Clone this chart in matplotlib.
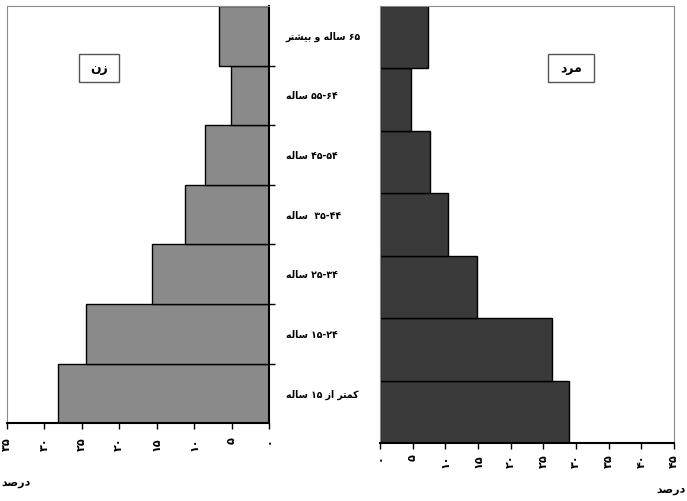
import itertools
import matplotlib
matplotlib.use("Agg")
import matplotlib.pyplot as plt
from matplotlib.patches import Rectangle
from matplotlib.ticker import FixedLocator, FuncFormatter

plt.rcParams["font.family"] = ["DejaVu Sans"]
plt.rcParams["font.weight"] = "bold"

# age groups, bottom to top
ages = ["کمتر از ۱۵ ساله", "۱۵-۲۴ ساله", "۲۵-۳۴ ساله", "۳۵-۴۴  ساله",
        "۴۵-۵۴ ساله", "۵۵-۶۴ ساله", "۶۵ ساله و بیشتر"]
women = [28.2, 24.5, 15.6, 11.2, 8.5, 5.1, 6.7]
men = [29.0, 26.4, 14.9, 10.4, 7.6, 4.7, 7.35]
women_ticks = [0, 5, 10, 15, 20, 25, 30, 35]
men_ticks = [0, 5, 10, 15, 20, 25, 30, 35, 40, 45]

# minimal arabic shaping, matplotlib has no complex text layout
FORMS = {
    "ا": ("\uFE8D", "\uFE8E"),
    "د": ("\uFEA9", "\uFEAA"),
    "ر": ("\uFEAD", "\uFEAE"),
    "ز": ("\uFEAF", "\uFEB0"),
    "و": ("\uFEED", "\uFEEE"),
    "ب": ("\uFE8F", "\uFE90", "\uFE91", "\uFE92"),
    "ت": ("\uFE95", "\uFE96", "\uFE97", "\uFE98"),
    "س": ("\uFEB1", "\uFEB2", "\uFEB3", "\uFEB4"),
    "ش": ("\uFEB5", "\uFEB6", "\uFEB7", "\uFEB8"),
    "ص": ("\uFEB9", "\uFEBA", "\uFEBB", "\uFEBC"),
    "ل": ("\uFEDD", "\uFEDE", "\uFEDF", "\uFEE0"),
    "م": ("\uFEE1", "\uFEE2", "\uFEE3", "\uFEE4"),
    "ن": ("\uFEE5", "\uFEE6", "\uFEE7", "\uFEE8"),
    "ه": ("\uFEE9", "\uFEEA", "\uFEEB", "\uFEEC"),
    "ی": ("\uFBFC", "\uFBFD", "\uFBFE", "\uFBFF"),
    "ک": ("\uFB8E", "\uFB8F", "\uFB90", "\uFB91"),
}
DIGITS = "۰۱۲۳۴۵۶۷۸۹"


def shape(s):
    out = []
    for i, c in enumerate(s):
        if c not in FORMS:
            out.append(c)
            continue
        f = FORMS[c]
        prev = s[i - 1] if i > 0 else ""
        nxt = s[i + 1] if i + 1 < len(s) else ""
        jp = prev in FORMS and len(FORMS[prev]) == 4
        jn = len(f) == 4 and nxt in FORMS
        if jp and jn:
            out.append(f[3])
        elif jp:
            out.append(f[1])
        elif jn:
            out.append(f[2])
        else:
            out.append(f[0])
    return "".join(out)


def fa(s):
    s = shape(s)
    runs = []
    for isnum, grp in itertools.groupby(s, key=lambda c: c in DIGITS or c == "-"):
        g = "".join(grp)
        runs.append(g if isnum else g[::-1])
    return "".join(reversed(runs))


def fa_num(v, pos=None):
    return str(int(round(v))).translate(str.maketrans("0123456789", DIGITS))


W, H = 687, 501
fig = plt.figure(figsize=(W / 100, H / 100), dpi=100)


def box(x0, y0, x1, y1):
    # pixel box -> figure fraction
    return [x0 / W, 1 - y1 / H, (x1 - x0) / W, (y1 - y0) / H]


frame = "#8a8a8a"
pos = list(range(len(ages)))

# men (drawn first so the age labels sit on top)
ax2 = fig.add_axes(box(380, 6, 674, 443))
ax2.barh(pos, men, height=1.0, color="#3a3a3a", edgecolor="black", linewidth=1)
ax2.set_xlim(0, 45)
ax2.set_ylim(-0.5, 6.5)
for s in ["left", "top", "right"]:
    ax2.spines[s].set_color(frame)
    ax2.spines[s].set_linewidth(0.8)
ax2.spines["bottom"].set_color("black")
ax2.spines["bottom"].set_linewidth(1.5)
ax2.set_xticks(men_ticks)
ax2.xaxis.set_major_formatter(FuncFormatter(fa_num))
ax2.tick_params(axis="x", direction="out", length=4, width=1, pad=4,
                labelsize=8, labelrotation=90)
ax2.set_yticks([])
ax2.add_patch(Rectangle((0.572, 0.826), 0.155, 0.064, transform=ax2.transAxes,
                        facecolor="white", edgecolor="#555555", linewidth=1))
ax2.text(0.6495, 0.858, fa("مرد"), transform=ax2.transAxes, ha="center",
         va="center", fontsize=9)

# women
ax1 = fig.add_axes(box(7, 6, 269, 423.3))
ax1.set_zorder(3)
ax1.barh(pos, women, height=1.0, color="#8a8a8a", edgecolor="black", linewidth=1)
ax1.set_xlim(35, 0)
ax1.set_ylim(-0.5, 6.5)
for s in ["left", "top"]:
    ax1.spines[s].set_color(frame)
    ax1.spines[s].set_linewidth(0.8)
for s in ["right", "bottom"]:
    ax1.spines[s].set_color("black")
    ax1.spines[s].set_linewidth(1.5)
ax1.set_xticks(women_ticks)
ax1.xaxis.set_major_formatter(FuncFormatter(fa_num))
ax1.tick_params(axis="x", direction="out", length=4, width=1, pad=6,
                labelsize=8, labelrotation=90)
ax1.yaxis.tick_right()
ax1.yaxis.set_major_locator(FixedLocator([p + 0.5 for p in pos[:-1]]))
ax1.yaxis.set_major_formatter(FuncFormatter(lambda v, p: ""))
ax1.yaxis.set_minor_locator(FixedLocator(pos))
ax1.set_yticklabels([fa(a) for a in ages], minor=True)
ax1.tick_params(axis="y", which="major", direction="out", length=4, width=1)
ax1.tick_params(axis="y", which="minor", length=0, pad=12, labelsize=7.5)
for t in ax1.yaxis.get_minorticklabels():
    t.set_ha("left")
    t.set_fontstretch("condensed")
ax1.add_patch(Rectangle((0.275, 0.818), 0.154, 0.067, transform=ax1.transAxes,
                        facecolor="white", edgecolor="#555555", linewidth=1))
ax1.text(0.352, 0.851, fa("زن"), transform=ax1.transAxes, ha="center",
         va="center", fontsize=9)

fig.text(1 / W, 1 - 483 / H, fa("درصد"), ha="left", va="center", fontsize=8)
fig.text(686 / W, 1 - 490 / H, fa("درصد"), ha="right", va="center", fontsize=8)

fig.savefig("out.png", dpi=100)
